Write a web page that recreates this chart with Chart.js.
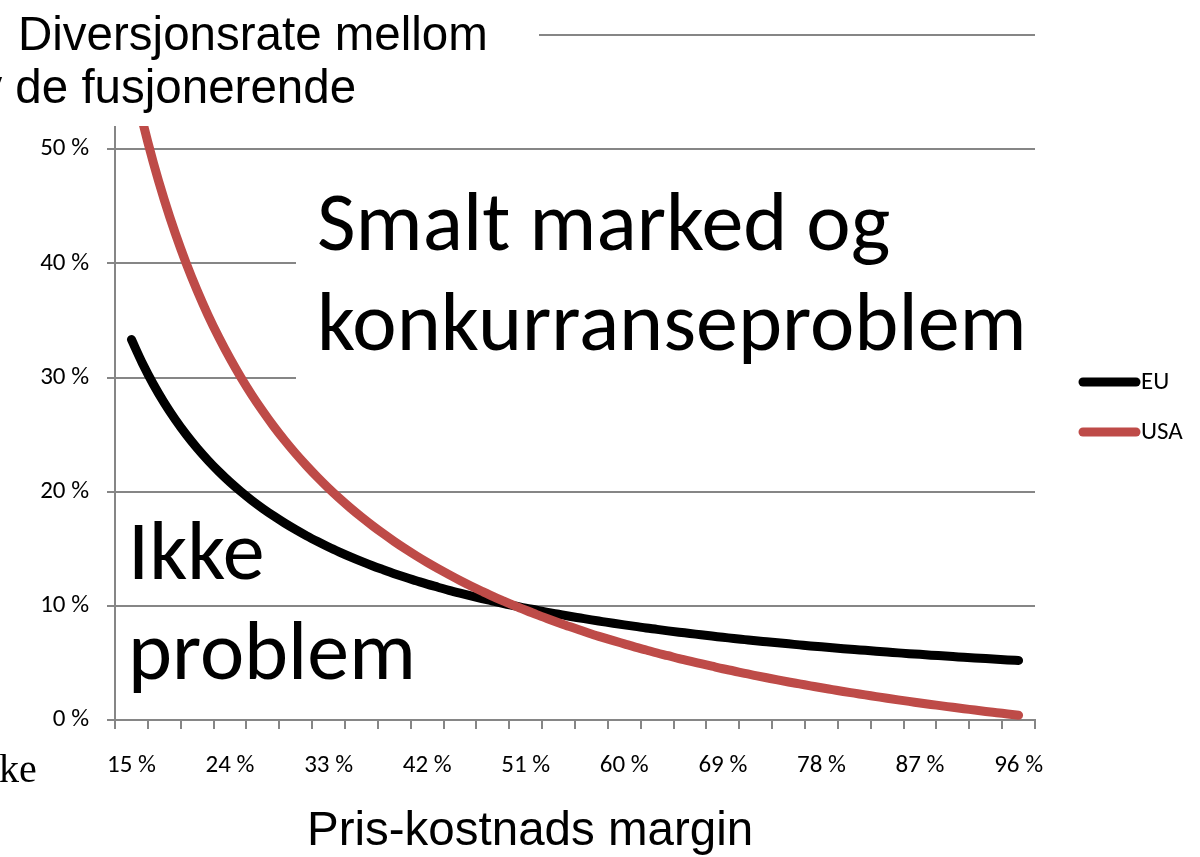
<!DOCTYPE html>
<html>
<head>
<meta charset="utf-8">
<script src="https://cdn.jsdelivr.net/npm/chart.js@4.4.1/dist/chart.umd.min.js"></script>
<style>
  html, body { margin: 0; padding: 0; background: #fff; }
</style>
</head>
<body>
<canvas id="chart" width="1200" height="857"></canvas>
<script>
// Pris-kostnads margin (%), one category per percent point
const margins = [14, 15, 16, 17, 18, 19, 20, 21, 22, 23, 24, 25, 26, 27, 28, 29, 30, 31, 32, 33,
    34, 35, 36, 37, 38, 39, 40, 41, 42, 43, 44, 45, 46, 47, 48, 49, 50, 51, 52, 53,
    54, 55, 56, 57, 58, 59, 60, 61, 62, 63, 64, 65, 66, 67, 68, 69, 70, 71, 72, 73,
    74, 75, 76, 77, 78, 79, 80, 81, 82, 83, 84, 85, 86, 87, 88, 89, 90, 91, 92, 93,
    94, 95, 96, 97];

// Diversjonsrate (%)
const euValues = [null, 33.33, 31.25, 29.41, 27.78, 26.32, 25.00, 23.81, 22.73, 21.74, 20.83, 20.00, 19.23, 18.52, 17.86, 17.24,
    16.67, 16.13, 15.63, 15.15, 14.71, 14.29, 13.89, 13.51, 13.16, 12.82, 12.50, 12.20, 11.90, 11.63, 11.36,
    11.11, 10.87, 10.64, 10.42, 10.20, 10.00, 9.80, 9.62, 9.43, 9.26, 9.09, 8.93, 8.77, 8.62, 8.47,
    8.33, 8.20, 8.06, 7.94, 7.81, 7.69, 7.58, 7.46, 7.35, 7.25, 7.14, 7.04, 6.94, 6.85, 6.76,
    6.67, 6.58, 6.49, 6.41, 6.33, 6.25, 6.17, 6.10, 6.02, 5.95, 5.88, 5.81, 5.75, 5.68, 5.62,
    5.56, 5.49, 5.43, 5.38, 5.32, 5.26, 5.21, null];

const usaValues = [null, 56.67, 52.50, 48.82, 45.56, 42.63, 40.00, 37.62, 35.45, 33.48, 31.67, 30.00, 28.46, 27.04, 25.71, 24.48,
    23.33, 22.26, 21.25, 20.30, 19.41, 18.57, 17.78, 17.03, 16.32, 15.64, 15.00, 14.39, 13.81, 13.26, 12.73,
    12.22, 11.74, 11.28, 10.83, 10.41, 10.00, 9.61, 9.23, 8.87, 8.52, 8.18, 7.86, 7.54, 7.24, 6.95,
    6.67, 6.39, 6.13, 5.87, 5.63, 5.38, 5.15, 4.93, 4.71, 4.49, 4.29, 4.08, 3.89, 3.70, 3.51,
    3.33, 3.16, 2.99, 2.82, 2.66, 2.50, 2.35, 2.20, 2.05, 1.90, 1.76, 1.63, 1.49, 1.36, 1.24,
    1.11, 0.99, 0.87, 0.75, 0.64, 0.53, 0.42, null];

const yMin = 0;
const yMax = 60;
const yStep = 10;
const labelEvery = 9;   // x labels: 15 %, 24 %, ... 96 %
const tickEvery = 3;    // small tick marks on the x axis

const gridGray = '#868686';
const smallFont = { family: 'Carlito, Calibri, Lato, sans-serif', size: 25 };

// Text boxes, legend and axis title drawn on top of the plot
const overlayPlugin = {
    id: 'overlay',
    afterDraw(chart) {
        const c = chart.ctx;
        c.save();
        // white text boxes hide the grid behind them
        c.fillStyle = '#fff';
        c.fillRect(0, 0, 539, 126);
        c.fillRect(296, 162, 752, 276);

        c.fillStyle = '#000';
        c.textBaseline = 'alphabetic';
        c.textAlign = 'left';
        c.font = '47.5px "Liberation Sans", Arial, sans-serif';
        c.fillText('Diversjonsrate mellom', 18, 50);
        c.fillText('av de fusjonerende', -48, 103);
        c.fillText('Pris-kostnads margin', 307, 845);

        c.font = '84px Carlito, Calibri, Lato, sans-serif';
        c.fillText('Smalt marked og', 317, 250, 584);
        c.fillText('konkurranseproblem', 317, 350, 723);
        c.fillText('Ikke', 128, 579, 137);
        c.fillText('problem', 128, 679, 288);

        c.font = '40px "Liberation Serif", "Times New Roman", serif';
        c.fillText('ke', -1, 782);

        // legend
        const legendY = [382, 432];
        c.font = '25px Carlito, Calibri, Lato, sans-serif';
        c.textBaseline = 'middle';
        c.lineCap = 'round';
        c.lineWidth = 9;
        chart.data.datasets.forEach((ds, i) => {
            c.strokeStyle = ds.borderColor;
            c.beginPath();
            c.moveTo(1083, legendY[i]);
            c.lineTo(1136, legendY[i]);
            c.stroke();
            c.fillStyle = '#000';
            c.fillText(ds.label, 1141, legendY[i] + 1);
        });
        c.restore();
    }
};

const ctx = document.getElementById('chart').getContext('2d');

new Chart(ctx, {
    type: 'line',
    data: {
        labels: margins.map(m => m + ' %'),
        datasets: [
            {
                label: 'EU',
                data: euValues,
                borderColor: '#000000',
                borderWidth: 9,
                borderCapStyle: 'round',
                borderJoinStyle: 'round',
                cubicInterpolationMode: 'monotone',
                pointRadius: 0,
                order: 2
            },
            {
                label: 'USA',
                data: usaValues,
                borderColor: '#BE4B48',
                borderWidth: 9,
                borderCapStyle: 'round',
                borderJoinStyle: 'round',
                cubicInterpolationMode: 'monotone',
                pointRadius: 0,
                order: 1
            }
        ]
    },
    options: {
        responsive: false,
        animation: false,
        devicePixelRatio: 1,
        layout: {
            padding: { top: 35, right: 165, bottom: 0, left: 0 }
        },
        plugins: {
            legend: { display: false },
            tooltip: { enabled: false }
        },
        scales: {
            x: {
                type: 'category',
                offset: true,
                afterFit: (scale) => { scale.height = 137; },
                grid: {
                    offset: true,
                    drawOnChartArea: false,
                    tickLength: 9,
                    lineWidth: 2,
                    color: gridGray,
                    tickColor: (c) => (c.type !== 'tick' || c.index % tickEvery === 0) ? gridGray : 'rgba(0,0,0,0)'
                },
                border: { color: gridGray, width: 2 },
                ticks: {
                    autoSkip: false,
                    maxRotation: 0,
                    padding: 22,
                    color: '#000',
                    font: smallFont,
                    callback: function (value, index) {
                        if (index >= 1 && index <= margins.length - 2 && (index - 1) % labelEvery === 0) {
                            return this.getLabelForValue(value);
                        }
                        return '';
                    }
                }
            },
            y: {
                min: yMin,
                max: yMax,
                afterFit: (scale) => { scale.width = 115; },
                grid: {
                    color: gridGray,
                    lineWidth: 2,
                    tickLength: 8
                },
                border: { color: gridGray, width: 2 },
                ticks: {
                    stepSize: yStep,
                    padding: 18,
                    color: '#000',
                    font: smallFont,
                    callback: (v) => v + ' %'
                }
            }
        }
    },
    plugins: [overlayPlugin]
});
</script>
</body>
</html>
